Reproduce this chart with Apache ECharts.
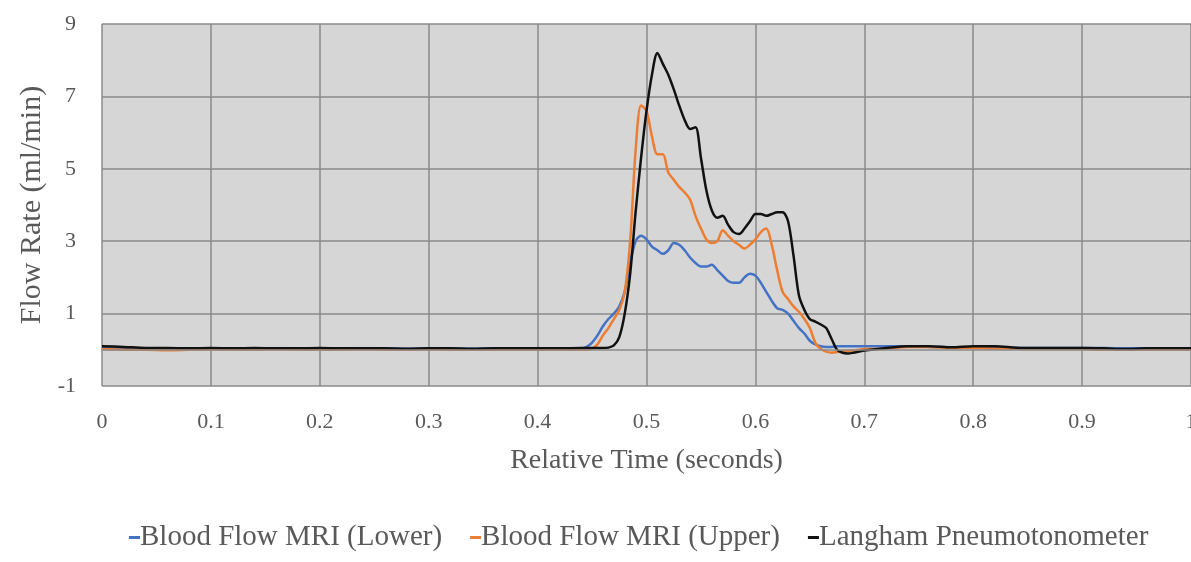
<!DOCTYPE html>
<html><head><meta charset="utf-8">
<script src="https://cdn.jsdelivr.net/npm/echarts@6/dist/echarts.min.js"></script>
<style>html,body{margin:0;padding:0;background:#fff}#c{width:1191px;height:562px}</style>
</head><body><div id="c"></div>
<script>
// Time samples (seconds)
const timePre = [0,0.02,0.04,0.06,0.08,0.10,0.12,0.14,0.16,0.18,0.20,0.22,0.24,0.26,0.28,0.30,0.32,0.34,0.36,0.38,0.40,0.42,0.44];
const timeMid = [0.445,0.45,0.455,0.46,0.465,0.47,0.475,0.48,0.485,0.49,0.495,0.50,0.505,0.51,0.515,0.52,0.525,0.53,0.535,0.54,0.545,0.55,0.555,0.56,0.565,0.57,0.575,0.58,0.585,0.59,0.595,0.60,0.605,0.61,0.615,0.62,0.625,0.63,0.635,0.64,0.645,0.65,0.655,0.66,0.665,0.67,0.675,0.68,0.685,0.69,0.695,0.70];
const timePost = [0.72,0.74,0.76,0.78,0.80,0.82,0.84,0.86,0.88,0.90,0.92,0.94,0.96,0.98,1.0];

// Blood Flow MRI (Lower)
const lowerPre = [0.05,0.04,0.04,0.03,0.03,0.04,0.03,0.03,0.03,0.03,0.04,0.03,0.03,0.03,0.03,0.03,0.03,0.03,0.03,0.03,0.03,0.03,0.04];
const lowerMid = [0.08,0.2,0.4,0.65,0.85,1.0,1.2,1.6,2.4,3.0,3.15,3.05,2.85,2.75,2.65,2.75,2.95,2.9,2.75,2.55,2.4,2.3,2.3,2.35,2.2,2.05,1.9,1.85,1.85,2.0,2.1,2.05,1.85,1.6,1.35,1.15,1.1,1.0,0.8,0.6,0.45,0.25,0.15,0.1,0.08,0.08,0.1,0.1,0.1,0.1,0.1,0.1];
const lowerPost = [0.1,0.1,0.08,0.07,0.06,0.05,0.05,0.05,0.05,0.05,0.05,0.04,0.04,0.04,0.04];

// Blood Flow MRI (Upper)
const upperPre = [0.02,0.0,0.0,-0.01,0.0,0.01,0.0,0.0,0.01,0.0,0.0,0.0,0.01,0.0,0.0,0.01,0.0,0.0,0.0,0.0,0.0,0.0,0.0];
const upperMid = [0.0,0.03,0.15,0.4,0.6,0.85,1.1,1.6,3.0,5.5,6.75,6.6,5.9,5.4,5.4,4.9,4.7,4.5,4.35,4.15,3.7,3.35,3.05,2.95,3.0,3.3,3.15,3.0,2.9,2.8,2.9,3.05,3.25,3.35,2.9,2.2,1.6,1.4,1.2,1.05,0.85,0.6,0.2,0.02,-0.05,-0.08,-0.06,-0.04,-0.03,-0.02,0.0,0.02];
const upperPost = [0.03,0.08,0.08,0.05,0.05,0.03,0.03,0.02,0.02,0.02,0.0,0.0,0.0,0.0,0.0];

// Langham Pneumotonometer
const langPre = [0.1,0.08,0.05,0.05,0.04,0.05,0.04,0.05,0.04,0.04,0.05,0.04,0.04,0.04,0.03,0.04,0.04,0.03,0.04,0.04,0.04,0.04,0.05];
const langMid = [0.05,0.05,0.05,0.05,0.06,0.12,0.35,1.0,2.1,3.8,5.3,6.6,7.6,8.2,7.9,7.6,7.2,6.75,6.35,6.1,6.15,5.3,4.4,3.85,3.65,3.7,3.45,3.25,3.2,3.35,3.55,3.75,3.75,3.7,3.75,3.8,3.8,3.55,2.6,1.5,1.1,0.85,0.78,0.7,0.6,0.3,0.0,-0.08,-0.1,-0.08,-0.05,-0.02];
const langPost = [0.05,0.1,0.1,0.07,0.1,0.1,0.06,0.05,0.05,0.05,0.04,0.02,0.04,0.04,0.04];

const xTicks = {min:0, max:1, interval:0.1};
const yTicks = {min:-1, max:9, interval:2};

const time = timePre.concat(timeMid, timePost);
function pairs(a,b,c){ const v=a.concat(b,c); return time.map((t,i)=>[t,v[i]]); }

const FONT = 'Liberation Serif';
const chart = echarts.init(document.getElementById('c'));
chart.setOption({
  animation:false,
  backgroundColor:'#ffffff',
  grid:{left:102,right:0,top:24,bottom:176,show:true,backgroundColor:'#d6d6d6',borderWidth:0,containLabel:false,outerBoundsMode:'none'},
  legend:{
    top:518,left:124,
    icon:'rect',itemWidth:11,itemHeight:3,itemGap:28,
    textStyle:{fontFamily:FONT,fontSize:29,color:'#595959',padding:[0,0,0,-5]},
    data:['Blood Flow MRI (Lower)','Blood Flow MRI (Upper)','Langham Pneumotonometer']
  },
  xAxis:{
    type:'value',min:xTicks.min,max:xTicks.max,interval:xTicks.interval,
    name:'Relative Time (seconds)',nameLocation:'middle',nameGap:61,
    nameTextStyle:{fontFamily:FONT,fontSize:28,color:'#595959'},
    axisLine:{show:false},axisTick:{show:false},
    axisLabel:{fontFamily:FONT,fontSize:22,color:'#595959',margin:25},
    splitLine:{show:true,lineStyle:{color:'#8a8a8a',width:1.5}}
  },
  yAxis:{
    type:'value',min:yTicks.min,max:yTicks.max,interval:yTicks.interval,
    name:'Flow Rate (ml/min)',nameLocation:'middle',nameGap:47,
    nameTextStyle:{fontFamily:FONT,fontSize:30,color:'#595959'},
    axisLine:{show:false},axisTick:{show:false},
    axisLabel:{fontFamily:FONT,fontSize:22,color:'#595959',margin:26},
    splitLine:{show:true,lineStyle:{color:'#8a8a8a',width:1.5}}
  },
  series:[
    {name:'Blood Flow MRI (Lower)',type:'line',showSymbol:false,smooth:0.3,
     data:pairs(lowerPre,lowerMid,lowerPost),itemStyle:{color:'#4472c4'},lineStyle:{color:'#4472c4',width:2.5},
     markLine:{silent:true,symbol:'none',label:{show:false},lineStyle:{color:'#8a8a8a',width:1.5,type:'solid'},data:[{yAxis:0}]}},
    {name:'Blood Flow MRI (Upper)',type:'line',showSymbol:false,smooth:0.3,
     data:pairs(upperPre,upperMid,upperPost),itemStyle:{color:'#ed7d31'},lineStyle:{color:'#ed7d31',width:2.5}},
    {name:'Langham Pneumotonometer',type:'line',showSymbol:false,smooth:0.3,
     data:pairs(langPre,langMid,langPost),itemStyle:{color:'#111111'},lineStyle:{color:'#111111',width:2.5}}
  ]
});
</script></body></html>
